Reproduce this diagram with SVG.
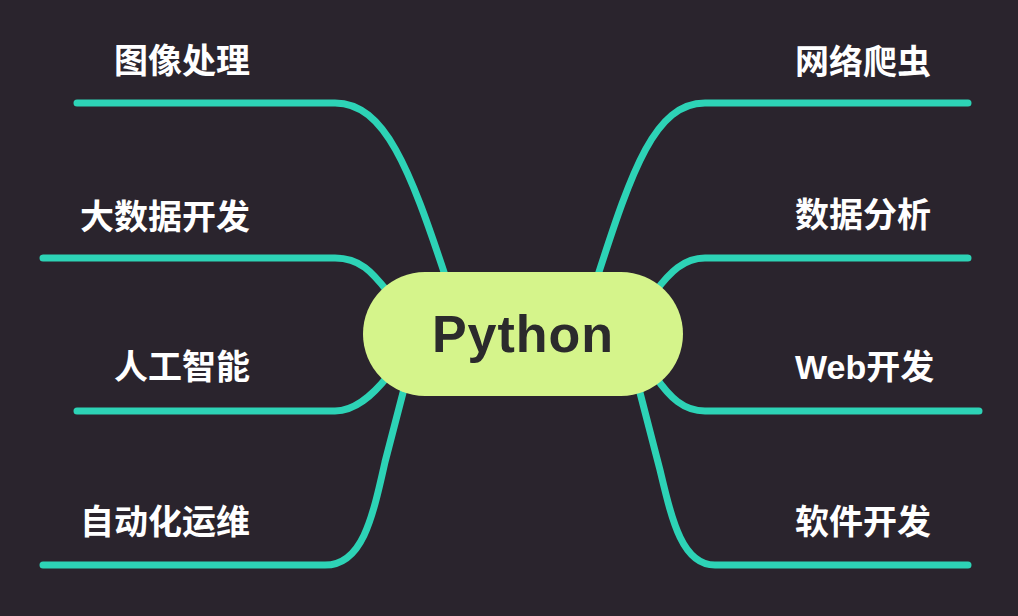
<svg xmlns="http://www.w3.org/2000/svg" width="1018" height="616" viewBox="0 0 1018 616">
<style>
.bg{fill:#2a242d}
.link{fill:none;stroke:#2dd3b6;stroke-width:7;stroke-linecap:round;stroke-linejoin:round}
.lbl{font-family:"Liberation Sans","Noto Sans CJK SC",sans-serif;font-weight:bold;font-size:34px;fill:#ffffff}
.l{text-anchor:end}
.core{fill:#d5f48b}
.coretxt{font-family:"Liberation Sans","Noto Sans",sans-serif;font-weight:bold;font-size:52px;fill:#2b2a2c;text-anchor:middle;letter-spacing:1px}
</style>
<rect class="bg" x="0" y="0" width="1018" height="616"/>
<g id="connectors">
<path class="link" d="M77,103 L335,103 C385,103 410,170 445,275"/>
<path class="link" d="M43,258 L335,258 C360,258 372,272 388,292"/>
<path class="link" d="M77,411 L335,411 C355,411 372,396 388,376"/>
<path class="link" d="M43,565 L325,565 C362,565 372,520 385,462 L405,385"/>
<path class="link" d="M968,103 L705,103 C655,103 632,170 598,275"/>
<path class="link" d="M968,258 L705,258 C684,258 670,272 655,292"/>
<path class="link" d="M979,411 L705,411 C684,411 670,398 655,376"/>
<path class="link" d="M968,565 L715,565 C682,565 672,520 660,470 L638,385"/>
</g>
<g id="n-python">
<rect class="core" x="363" y="272" width="320" height="124" rx="62"/>
<text class="coretxt" x="523" y="352">Python</text>
</g>
<g id="n-image"><text class="lbl l" x="250" y="73">图像处理</text></g>
<g id="n-bigdata"><text class="lbl l" x="250" y="229">大数据开发</text></g>
<g id="n-ai"><text class="lbl l" x="250" y="379">人工智能</text></g>
<g id="n-ops"><text class="lbl l" x="250" y="534">自动化运维</text></g>
<g id="n-crawler"><text class="lbl" x="795" y="74">网络爬虫</text></g>
<g id="n-analysis"><text class="lbl" x="795" y="227">数据分析</text></g>
<g id="n-web"><text class="lbl" x="795" y="379">Web开发</text></g>
<g id="n-software"><text class="lbl" x="795" y="534">软件开发</text></g>
</svg>
